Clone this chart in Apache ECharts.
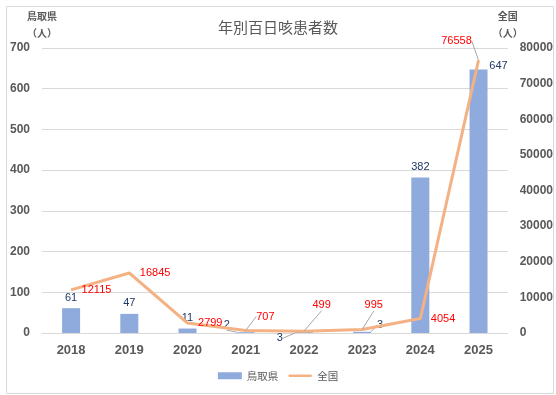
<!DOCTYPE html>
<html>
<head>
<meta charset="utf-8">
<script src="https://cdn.jsdelivr.net/npm/echarts@6/dist/echarts.min.js"></script>
<style>html,body{margin:0;padding:0;background:#fff}#c{width:556px;height:395px}</style>
</head>
<body>
<div id="c"></div>
<script>
const categories = ['2018','2019','2020','2021','2022','2023','2024','2025'];
const tottori = [61, 47, 11, 2, 3, 3, 382, 647];
const national = [12115, 16845, 2799, 707, 499, 995, 4054, 76558];
const leftTicks = [0, 100, 200, 300, 400, 500, 600, 700];
const rightTicks = [0, 10000, 20000, 30000, 40000, 50000, 60000, 70000, 80000];

const FONT = '"Liberation Sans", Arial, sans-serif';
const NAVY = '#1f3864';
const RED = '#ff0000';
const LEADER = {show: true, lineStyle: {color: '#a6a6a6', width: 1}};

// per-item label tweaks (layout only)
const barLabelMove = {3: [-19, 3], 4: [-24, 17], 5: [18, 4], 7: [20, 7]};
const barLeader = {3: true, 4: true, 5: true};
const lineLabelMove = {3: [0, -14], 4: [-2, -26], 5: [-8, -24], 7: [-22, -3]};
const lineLeader = {3: true, 4: true, 5: true, 7: true};

const barData = tottori.map((v, i) => {
  const d = {value: v};
  if (barLeader[i]) d.labelLine = LEADER;
  return d;
});
const lineData = national.map((v, i) => {
  const d = {value: v};
  if (i === 7) d.label = {position: 'top'};
  if (lineLeader[i]) d.labelLine = LEADER;
  return d;
});

const chart = echarts.init(document.getElementById('c'), null, {renderer: 'canvas'});
chart.setOption({
  animation: false,
  textStyle: {fontFamily: FONT},
  title: {
    text: '年別百日咳患者数',
    left: 'center', top: 15,
    textStyle: {fontSize: 15, fontWeight: 'normal', color: '#595959', fontFamily: '"Noto Sans CJK JP", sans-serif'}
  },
  graphic: [{
    type: 'rect', left: 4, top: 4,
    shape: {width: 547, height: 387},
    style: {fill: 'none', stroke: '#d9d9d9', lineWidth: 1}
  }],
  legend: {
    bottom: 9, left: 'center',
    itemWidth: 24, itemHeight: 7, itemGap: 10,
    textStyle: {fontSize: 10.5, color: '#595959', fontFamily: '"Noto Sans CJK JP", sans-serif'},
    data: [
      {name: '鳥取県', icon: 'rect'},
      {name: '全国', icon: 'path://M0,0 M0,2.5 L24,2.5 A1.5,1.5 0 0 1 24,5.5 L0,5.5 A1.5,1.5 0 0 1 0,2.5 Z M0,8', itemStyle: {color: '#f4b183'}}
    ]
  },
  grid: {left: 42, right: 48, top: 48, bottom: 62, containLabel: false},
  xAxis: {
    type: 'category', data: categories,
    axisTick: {show: false},
    axisLine: {lineStyle: {color: '#d9d9d9'}},
    axisLabel: {fontSize: 13, fontWeight: 'bold', color: '#595959', margin: 11}
  },
  yAxis: [{
    type: 'value', min: 0, max: 700, interval: 100,
    name: '鳥取県\n（人）', nameLocation: 'end', nameGap: 6,
    nameTextStyle: {fontSize: 10, fontWeight: 'bold', color: '#595959', lineHeight: 17, align: 'center', fontFamily: '"Noto Sans CJK JP", sans-serif'},
    axisLabel: {fontSize: 12, fontWeight: 'bold', color: '#595959', margin: 12},
    splitLine: {lineStyle: {color: '#d9d9d9'}},
    axisLine: {show: false}, axisTick: {show: false}
  }, {
    type: 'value', min: 0, max: 80000, interval: 10000,
    name: '全国\n（人）', nameLocation: 'end', nameGap: 6,
    nameTextStyle: {fontSize: 10, fontWeight: 'bold', color: '#595959', lineHeight: 17, align: 'center', fontFamily: '"Noto Sans CJK JP", sans-serif'},
    axisLabel: {fontSize: 12, fontWeight: 'bold', color: '#595959', margin: 12, formatter: v => String(v)},
    splitLine: {show: false},
    axisLine: {show: false}, axisTick: {show: false}
  }],
  series: [{
    name: '鳥取県', type: 'bar', yAxisIndex: 0,
    data: barData, barWidth: 18,
    itemStyle: {color: '#8faadc'},
    label: {show: true, position: 'top', distance: 5, fontSize: 11, color: NAVY},
    labelLine: {show: false},
    labelLayout: function (p) {
      const m = barLabelMove[p.dataIndex];
      return m ? {dx: m[0], dy: m[1]} : {};
    }
  }, {
    name: '全国', type: 'line', yAxisIndex: 1,
    data: lineData,
    symbol: 'circle', symbolSize: 1, showSymbol: true,
    lineStyle: {color: '#f4b183', width: 3},
    itemStyle: {color: '#f4b183'},
    label: {show: true, position: 'right', distance: 10, fontSize: 11, color: RED},
    labelLine: {show: false},
    labelLayout: function (p) {
      const m = lineLabelMove[p.dataIndex];
      return m ? {dx: m[0], dy: m[1]} : {};
    }
  }]
});
</script>
</body>
</html>
